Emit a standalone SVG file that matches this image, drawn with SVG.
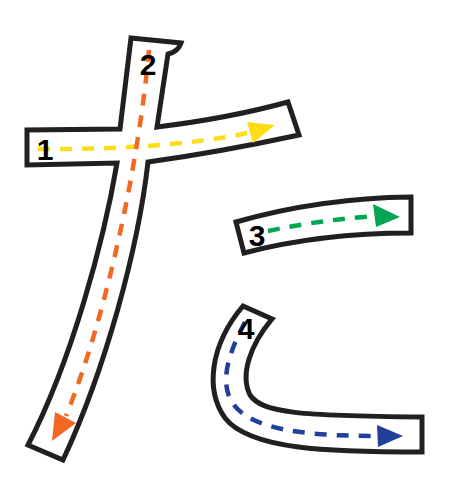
<svg xmlns="http://www.w3.org/2000/svg" width="450" height="500" viewBox="0 0 450 500">
<defs>
<style>
.outline{fill:#ffffff;stroke:#231f20;stroke-width:5;stroke-linejoin:miter}
.dash{fill:none;stroke-width:4.5;stroke-dasharray:12 10}
.num{font-family:"Liberation Sans",Arial,sans-serif;font-weight:bold;font-size:30px;fill:#000;text-anchor:middle}
</style>
</defs>
<g id="stroke12">
<path class="outline" d="M131,38 L181,43 Q178,52 168,54 L157,127 Q230,118 288,102 L299,135 Q220,152 148,162 C138,250 105,370 63,460 L28,445 C72,360 104,240 117,163 L27,165 L27,130 L120,129 Z"/>
</g>
<g id="stroke3">
<path class="outline" d="M236,222 Q320,198 411,197 L411,233 Q320,233 244,253 Z"/>
</g>
<g id="stroke4">
<path class="outline" d="M243,306 L272,319 C250,345 240,375 250,395 C262,413 300,416 422,417 L422,452 C330,452 250,450 225,418 C205,390 210,345 243,306 Z"/>
</g>
<g id="connectors">
<path class="dash" stroke="#ffdd15" stroke-dasharray="14 9" d="M38,149 Q170,150 252,132"/>
<polygon fill="#ffdd15" points="275,125 247,122 253,143"/>
<path class="dash" stroke="#f26722" d="M149,50 C138,170 105,320 66,416"/>
<polygon fill="#f26722" points="52,441 55,412 76,423"/>
<path class="dash" stroke="#00a651" d="M268,231 Q320,220 375,216"/>
<polygon fill="#00a651" points="400,217 373,204 376,227"/>
<path class="dash" stroke="#21409a" d="M245,322 C225,360 215,395 245,415 C270,432 320,436 378,436"/>
<polygon fill="#21409a" points="403,436 377,425 378,447"/>
</g>
<g id="labels">
<text class="num" x="45" y="160">1</text>
<text class="num" x="148" y="75">2</text>
<text class="num" x="257" y="246">3</text>
<text class="num" x="246" y="339">4</text>
</g>
</svg>
